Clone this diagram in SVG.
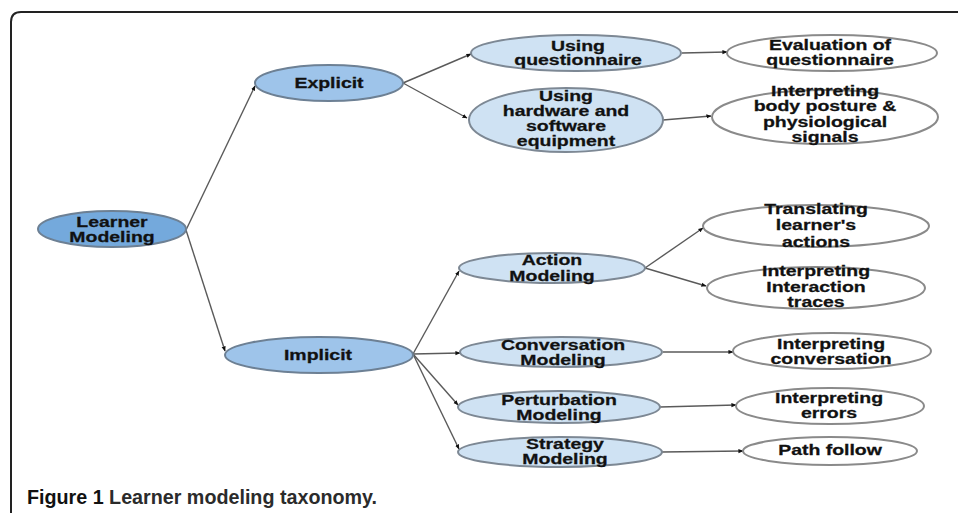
<svg xmlns="http://www.w3.org/2000/svg" width="958" height="513" viewBox="0 0 958 513">
  <style>
    .frame { fill: none; stroke: #222; stroke-width: 2; }
    .root { fill: #74a9dc; stroke: #6d8094; stroke-width: 2; }
    .lvl1 { fill: #9ec4ea; stroke: #6d8094; stroke-width: 2; }
    .lvl2 { fill: #cfe2f3; stroke: #7d8894; stroke-width: 2; }
    .leaf { fill: #ffffff; stroke: #8a8a8a; stroke-width: 2; }
    .lbl { font-family: "Liberation Sans", Arial, sans-serif; font-weight: bold; font-size: 14px; fill: #111; text-anchor: middle; stroke: #111; stroke-width: 0.25; }
    .edge { fill: none; stroke: #5a5a5a; stroke-width: 1.4; marker-end: url(#ah); }
    .cap { font-family: "Liberation Sans", Arial, sans-serif; font-weight: bold; font-size: 20px; }
  </style>
  <defs>
    <marker id="ah" viewBox="0 0 6 6" refX="5.5" refY="3" markerWidth="5" markerHeight="5" markerUnits="userSpaceOnUse" orient="auto">
      <path d="M0,0.5 L6,3 L0,5.5 Z" fill="#111"/>
    </marker>
  </defs>

  <rect width="958" height="513" fill="#fff"/>
  <path class="frame" d="M11,513 V22 Q11,12 21,12 H958"/>

  <!-- connectors -->
  <g id="connectors">
    <line class="edge" x1="186" y1="230" x2="255" y2="86"/>
    <line class="edge" x1="186" y1="230" x2="225" y2="351"/>
    <line class="edge" x1="403" y1="83" x2="471" y2="54"/>
    <line class="edge" x1="403" y1="83" x2="467" y2="118"/>
    <line class="edge" x1="682" y1="53" x2="727" y2="52"/>
    <line class="edge" x1="663" y1="120" x2="711" y2="116"/>
    <line class="edge" x1="413" y1="354" x2="459" y2="271"/>
    <line class="edge" x1="413" y1="354" x2="460" y2="353"/>
    <line class="edge" x1="413" y1="354" x2="458" y2="405"/>
    <line class="edge" x1="413" y1="354" x2="459" y2="449"/>
    <line class="edge" x1="645" y1="268" x2="703" y2="228"/>
    <line class="edge" x1="645" y1="268" x2="706" y2="286"/>
    <line class="edge" x1="663" y1="352" x2="733" y2="352"/>
    <line class="edge" x1="660" y1="407" x2="736" y2="405"/>
    <line class="edge" x1="662" y1="452" x2="743" y2="451"/>
  </g>

  <!-- nodes: labels are drawn horizontally widened -->
  <g id="learner-modeling">
    <ellipse class="root" cx="112" cy="229" rx="74" ry="18"/>
    <text class="lbl" transform="matrix(1.39,0,0,1,112,0)"><tspan x="0" y="227">Learner</tspan><tspan x="0" y="242">Modeling</tspan></text>
  </g>
  <g id="explicit">
    <ellipse class="lvl1" cx="329" cy="83" rx="74" ry="18"/>
    <text class="lbl" transform="matrix(1.39,0,0,1,329,0)"><tspan x="0" y="88.5">Explicit</tspan></text>
  </g>
  <g id="implicit">
    <ellipse class="lvl1" cx="319" cy="355" rx="94" ry="18"/>
    <text class="lbl" transform="matrix(1.39,0,0,1,318,0)"><tspan x="0" y="360">Implicit</tspan></text>
  </g>

  <g id="using-questionnaire">
    <ellipse class="lvl2" cx="576" cy="53" rx="105" ry="18"/>
    <text class="lbl" transform="matrix(1.39,0,0,1,578,0)"><tspan x="0" y="51">Using</tspan><tspan x="0" y="65.5">questionnaire</tspan></text>
  </g>
  <g id="using-hardware">
    <ellipse class="lvl2" cx="566" cy="120" rx="97" ry="32"/>
    <text class="lbl" transform="matrix(1.39,0,0,1,566,0)"><tspan x="0" y="101">Using</tspan><tspan x="0" y="116">hardware and</tspan><tspan x="0" y="131">software</tspan><tspan x="0" y="146">equipment</tspan></text>
  </g>
  <g id="action-modeling">
    <ellipse class="lvl2" cx="552" cy="268" rx="93" ry="15"/>
    <text class="lbl" transform="matrix(1.39,0,0,1,552,0)"><tspan x="0" y="265">Action</tspan><tspan x="0" y="281">Modeling</tspan></text>
  </g>
  <g id="conversation-modeling">
    <ellipse class="lvl2" cx="561" cy="352" rx="101" ry="15"/>
    <text class="lbl" transform="matrix(1.39,0,0,1,563,0)"><tspan x="0" y="350">Conversation</tspan><tspan x="0" y="365">Modeling</tspan></text>
  </g>
  <g id="perturbation-modeling">
    <ellipse class="lvl2" cx="559" cy="407" rx="101" ry="16"/>
    <text class="lbl" transform="matrix(1.39,0,0,1,559,0)"><tspan x="0" y="405">Perturbation</tspan><tspan x="0" y="420">Modeling</tspan></text>
  </g>
  <g id="strategy-modeling">
    <ellipse class="lvl2" cx="560" cy="452" rx="102" ry="15"/>
    <text class="lbl" transform="matrix(1.39,0,0,1,565,0)"><tspan x="0" y="449">Strategy</tspan><tspan x="0" y="464">Modeling</tspan></text>
  </g>

  <g id="evaluation-of-questionnaire">
    <ellipse class="leaf" cx="832" cy="53" rx="105" ry="18"/>
    <text class="lbl" transform="matrix(1.39,0,0,1,830,0)"><tspan x="0" y="50">Evaluation of</tspan><tspan x="0" y="65">questionnaire</tspan></text>
  </g>
  <g id="interpreting-body-posture">
    <ellipse class="leaf" cx="825" cy="117" rx="113" ry="27"/>
    <text class="lbl" transform="matrix(1.39,0,0,1,825,0)"><tspan x="0" y="96">Interpreting</tspan><tspan x="0" y="111.5">body posture &amp;</tspan><tspan x="0" y="127">physiological</tspan><tspan x="0" y="142">signals</tspan></text>
  </g>
  <g id="translating-actions">
    <ellipse class="leaf" cx="816" cy="226" rx="113" ry="21"/>
    <text class="lbl" transform="matrix(1.39,0,0,1,816,0)"><tspan x="0" y="214">Translating</tspan><tspan x="0" y="230">learner's</tspan><tspan x="0" y="247">actions</tspan></text>
  </g>
  <g id="interpreting-interaction-traces">
    <ellipse class="leaf" cx="816" cy="288" rx="109" ry="21"/>
    <text class="lbl" transform="matrix(1.39,0,0,1,816,0)"><tspan x="0" y="276">Interpreting</tspan><tspan x="0" y="292">Interaction</tspan><tspan x="0" y="307">traces</tspan></text>
  </g>
  <g id="interpreting-conversation">
    <ellipse class="leaf" cx="832" cy="351" rx="99" ry="18"/>
    <text class="lbl" transform="matrix(1.39,0,0,1,831,0)"><tspan x="0" y="349">Interpreting</tspan><tspan x="0" y="364">conversation</tspan></text>
  </g>
  <g id="interpreting-errors">
    <ellipse class="leaf" cx="830" cy="406" rx="94" ry="18"/>
    <text class="lbl" transform="matrix(1.39,0,0,1,829,0)"><tspan x="0" y="403">Interpreting</tspan><tspan x="0" y="418">errors</tspan></text>
  </g>
  <g id="path-follow">
    <ellipse class="leaf" cx="830" cy="451" rx="87" ry="14"/>
    <text class="lbl" transform="matrix(1.39,0,0,1,830,0)"><tspan x="0" y="455.5">Path follow</tspan></text>
  </g>

  <!-- caption -->
  <text class="cap" x="27" y="504" textLength="350" lengthAdjust="spacingAndGlyphs"><tspan fill="#111">Figure 1</tspan><tspan fill="#2b2b2b"> Learner modeling taxonomy.</tspan></text>
</svg>
